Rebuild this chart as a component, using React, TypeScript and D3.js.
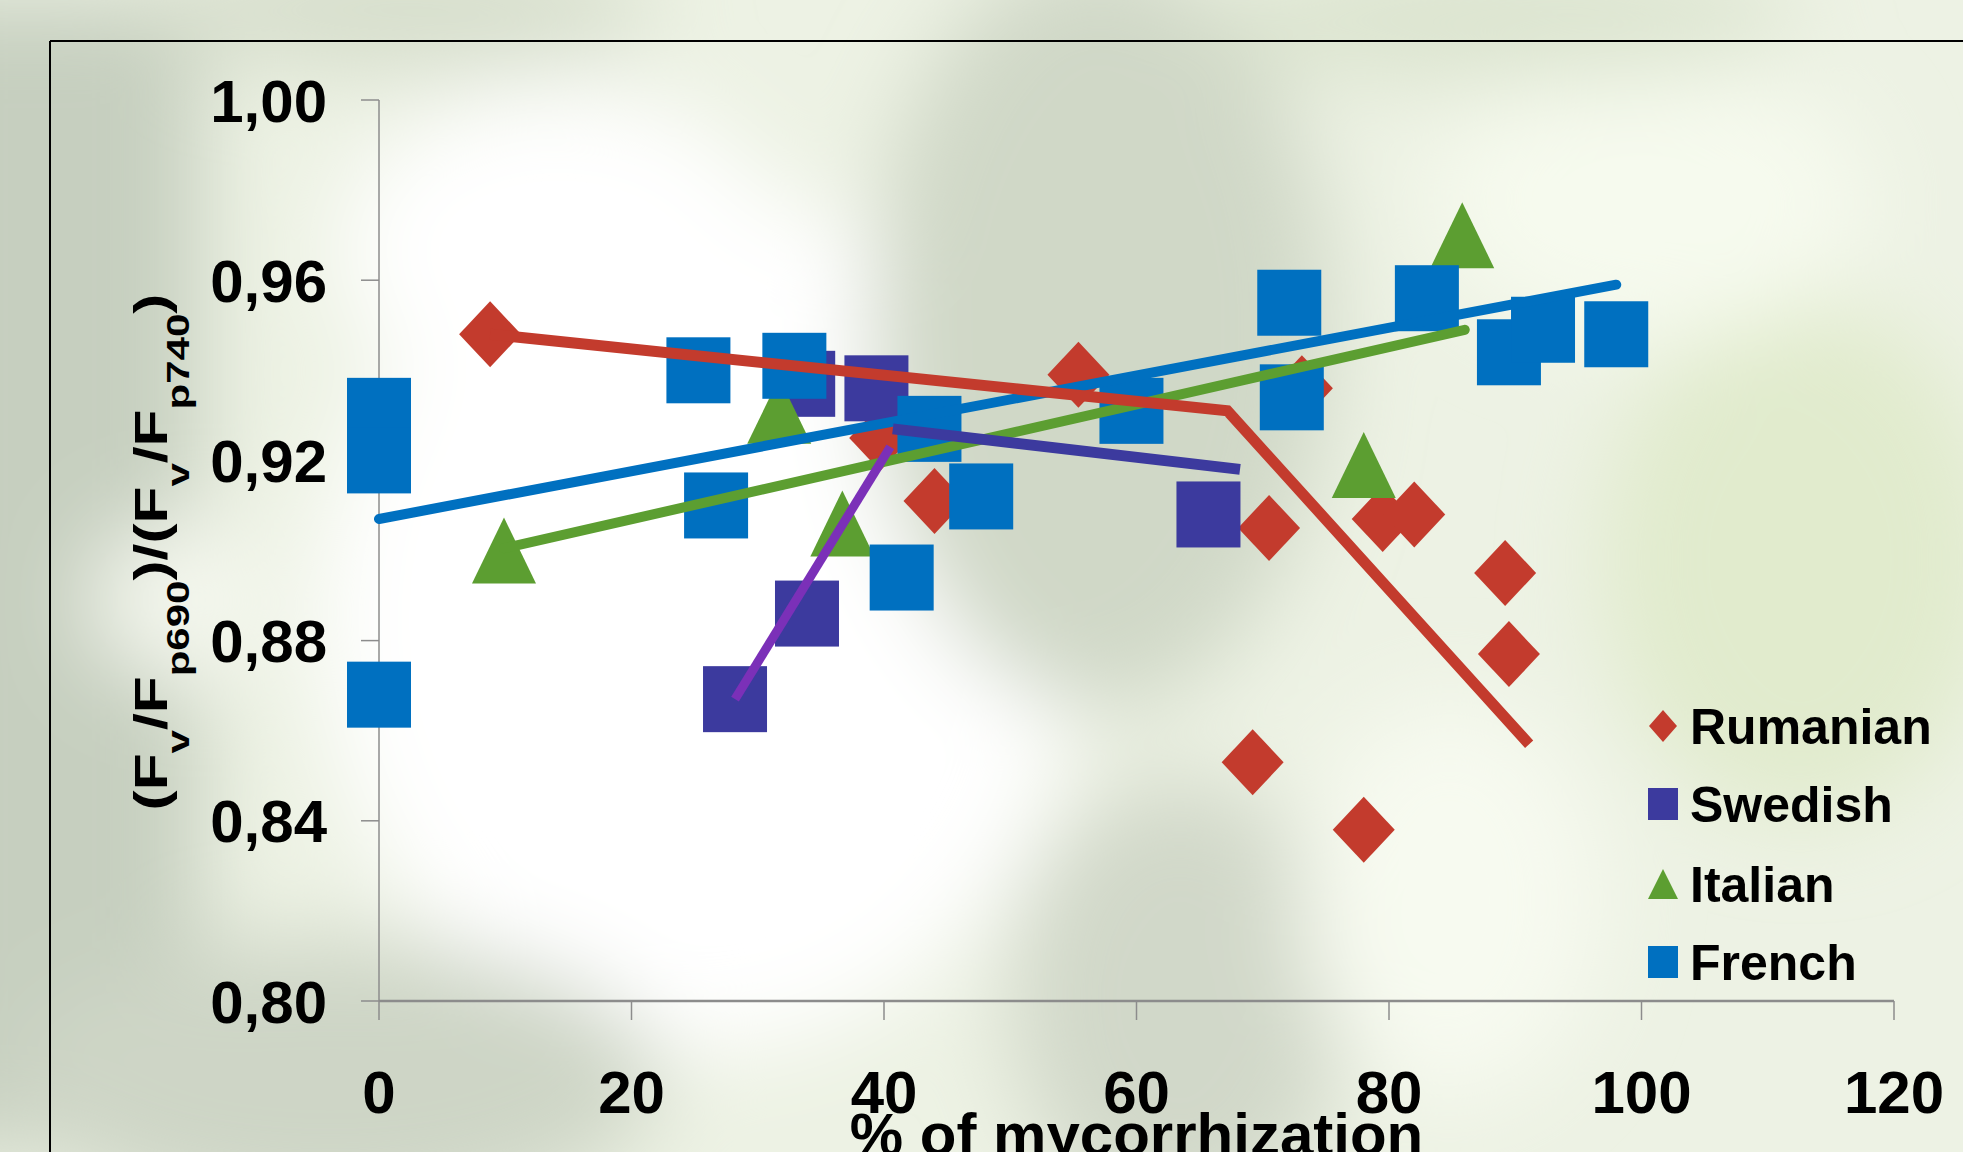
import React from "react";
import * as d3 from "d3";

const W = 1963;
const H = 1152;

// Rumanian
const rumanianX = [8.8, 39.7, 44.0, 55.4, 69.2, 70.5, 73.1, 78.0, 79.5, 82.0, 89.2, 89.5];
const rumanianY = [0.948, 0.925, 0.911, 0.939, 0.853, 0.905, 0.936, 0.838, 0.907, 0.908, 0.895, 0.877];
const rumanianLineX = [8.8, 67.2, 91.1];
const rumanianLineY = [0.948, 0.931, 0.857];

// Swedish
const swedishX = [28.2, 33.9, 33.6, 39.4, 65.7];
const swedishY = [0.867, 0.886, 0.937, 0.936, 0.908];
const swedishLine1X = [28.2, 40.5];
const swedishLine1Y = [0.867, 0.923];
const swedishLine2X = [40.7, 68.2];
const swedishLine2Y = [0.927, 0.918];

// Italian
const italianX = [9.9, 31.7, 36.7, 78.0, 85.8];
const italianY = [0.900, 0.931, 0.906, 0.919, 0.970];
const italianLineX = [9.9, 86.0];
const italianLineY = [0.9005, 0.949];

// French
const frenchX = [0, 0, 0, 25.3, 26.7, 32.9, 41.4, 43.6, 47.7, 59.6, 72.1, 72.3, 83.0, 89.5, 92.2, 98.0];
const frenchY = [0.931, 0.920, 0.868, 0.940, 0.910, 0.941, 0.894, 0.927, 0.912, 0.931, 0.955, 0.934, 0.956, 0.944, 0.949, 0.948];
const frenchLineX = [0, 98.0];
const frenchLineY = [0.907, 0.959];

const xTicks = [0, 20, 40, 60, 80, 100, 120];
const yTicks = [0.8, 0.84, 0.88, 0.92, 0.96, 1.0];
const legendNames = ["Rumanian", "Swedish", "Italian", "French"];

const RED = "#C33B2D";
const DARK = "#3C3A9E";
const PURPLE = "#7B30B8";
const GREEN = "#5C9E31";
const BLUE = "#0070C0";

const FONT = "Arial, 'Liberation Sans', sans-serif";

const zip = (a: number[], b: number[]): [number, number][] => a.map((v, i) => [v, b[i]]);

const diamond = (w: number, h: number) => `M0,${-h / 2}L${w / 2},0L0,${h / 2}L${-w / 2},0Z`;
const triangle = (w: number, h: number) => `M0,${-h / 2}L${w / 2},${h / 2}L${-w / 2},${h / 2}Z`;

export default function App() {
  const x = d3.scaleLinear().domain([0, 120]).range([379, 1894]);
  const y = d3.scaleLinear().domain([0.8, 1.0]).range([1001, 100]);
  const line = d3.line<[number, number]>().x(d => x(d[0])).y(d => y(d[1]));
  const fmt = (v: number) => d3.format(".2f")(v).replace(".", ",");

  const legendY = [726, 804, 884, 962];
  const legendColors = [RED, DARK, GREEN, BLUE];

  return (
    <div>
      <style>{"body{margin:0}"}</style>
      <svg width={W} height={H} style={{ display: "block" }} fontFamily={FONT}>
        <defs>
          <filter id="blur" x="-20%" y="-20%" width="140%" height="140%">
            <feGaussianBlur stdDeviation="45" />
          </filter>
        </defs>
        {/* blurred photo-like background */}
        <rect width={W} height={H} fill="#edf2e4" />
        <g filter="url(#blur)">
          <rect x={-100} y={0} width={300} height={H} fill="#c6cfbf" />
          <ellipse cx={700} cy={620} rx={380} ry={430} fill="#ffffff" />
          <ellipse cx={560} cy={250} rx={220} ry={160} fill="#ffffff" />
          <ellipse cx={1100} cy={330} rx={230} ry={380} fill="#d0d8c7" />
          <ellipse cx={1180} cy={1000} rx={170} ry={220} fill="#d1d8c9" />
          <ellipse cx={330} cy={1080} rx={330} ry={140} fill="#ced5c6" />
          <ellipse cx={1800} cy={560} rx={200} ry={260} fill="#e1ebcd" />
          <ellipse cx={1650} cy={200} rx={220} ry={140} fill="#f6faee" />
          <ellipse cx={1450} cy={900} rx={150} ry={200} fill="#f7faf0" />
          <ellipse cx={400} cy={10} rx={260} ry={60} fill="#d5ddcb" />
          <ellipse cx={1500} cy={20} rx={300} ry={60} fill="#dae3ce" />
          <ellipse cx={180} cy={600} rx={90} ry={80} fill="#f4f7ee" />
        </g>

        {/* outer frame */}
        <line x1={50} y1={41} x2={W + 10} y2={41} stroke="#000" strokeWidth={2} />
        <line x1={50} y1={41} x2={50} y2={H + 10} stroke="#000" strokeWidth={2} />

        {/* axes */}
        <line x1={x(0)} y1={y(1.0)} x2={x(0)} y2={y(0.8)} stroke="#8c8c8c" strokeWidth={1.5} />
        {yTicks.map(t => (
          <g key={"yt" + t}>
            <line x1={x(0) - 18} x2={x(0)} y1={y(t)} y2={y(t)} stroke="#8c8c8c" strokeWidth={1.5} />
            <text x={327} y={y(t)} dy="0.36em" textAnchor="end" fontSize={60} fontWeight="bold" fill="#000">
              {fmt(t)}
            </text>
          </g>
        ))}
        <line x1={x(0)} y1={y(0.8)} x2={x(120)} y2={y(0.8)} stroke="#8c8c8c" strokeWidth={2.5} />
        {xTicks.map(t => (
          <g key={"xt" + t}>
            <line x1={x(t)} x2={x(t)} y1={y(0.8)} y2={y(0.8) + 19} stroke="#8c8c8c" strokeWidth={1.5} />
            <text x={x(t)} y={1113} textAnchor="middle" fontSize={60} fontWeight="bold" fill="#000">
              {t}
            </text>
          </g>
        ))}

        {/* axis titles */}
        <text x={(x(0) + x(120)) / 2} y={1155} textAnchor="middle" fontSize={60} fontWeight="bold" fill="#000">
          % of mycorrhization
        </text>
        <g transform="translate(167,552) rotate(-90)">
          <text x={0} y={0} textAnchor="middle" fontSize={46} fontWeight="bold" fill="#000"
            textLength={517} lengthAdjust="spacingAndGlyphs">
            <tspan>(F</tspan>
            <tspan fontSize={32} dy={22}>v</tspan>
            <tspan dy={-22}>/F</tspan>
            <tspan fontSize={32} dy={22}>p690</tspan>
            <tspan dy={-22}>)/(F</tspan>
            <tspan fontSize={32} dy={22}>v</tspan>
            <tspan dy={-22}>/F</tspan>
            <tspan fontSize={32} dy={22}>p740</tspan>
            <tspan dy={-22}>)</tspan>
          </text>
        </g>

        {/* markers */}
        {zip(rumanianX, rumanianY).map((d, i) => (
          <path key={"r" + i} d={diamond(62, 66)} transform={`translate(${x(d[0])},${y(d[1])})`} fill={RED} />
        ))}
        {zip(swedishX, swedishY).map((d, i) => (
          <rect key={"s" + i} x={x(d[0]) - 32} y={y(d[1]) - 33} width={64} height={66} fill={DARK} />
        ))}
        {zip(italianX, italianY).map((d, i) => (
          <path key={"i" + i} d={triangle(64, 66)} transform={`translate(${x(d[0])},${y(d[1])})`} fill={GREEN} />
        ))}
        {zip(frenchX, frenchY).map((d, i) => (
          <rect key={"f" + i} x={x(d[0]) - 32} y={y(d[1]) - 33} width={64} height={66} fill={BLUE} />
        ))}

        {/* fitted lines */}
        <path d={line(zip(frenchLineX, frenchLineY)) || ""} fill="none" stroke={BLUE} strokeWidth={10} strokeLinecap="round" />
        <path d={line(zip(italianLineX, italianLineY)) || ""} fill="none" stroke={GREEN} strokeWidth={10} strokeLinecap="round" />
        <path d={line(zip(swedishLine1X, swedishLine1Y)) || ""} fill="none" stroke={PURPLE} strokeWidth={9} />
        <path d={line(zip(swedishLine2X, swedishLine2Y)) || ""} fill="none" stroke={DARK} strokeWidth={11} />
        <path d={line(zip(rumanianLineX, rumanianLineY)) || ""} fill="none" stroke={RED} strokeWidth={11} strokeLinejoin="miter" />

        {/* legend */}
        {legendNames.map((name, i) => (
          <g key={name} transform={`translate(1663,${legendY[i]})`}>
            {i === 0 && <path d={diamond(28, 32)} fill={legendColors[i]} />}
            {(i === 1 || i === 3) && <rect x={-15} y={-16} width={30} height={32} fill={legendColors[i]} />}
            {i === 2 && <path d={triangle(30, 30)} fill={legendColors[i]} />}
            <text x={27} y={0} dy="0.36em" fontSize={50} fontWeight="bold" fill="#000">{name}</text>
          </g>
        ))}
      </svg>
    </div>
  );
}
